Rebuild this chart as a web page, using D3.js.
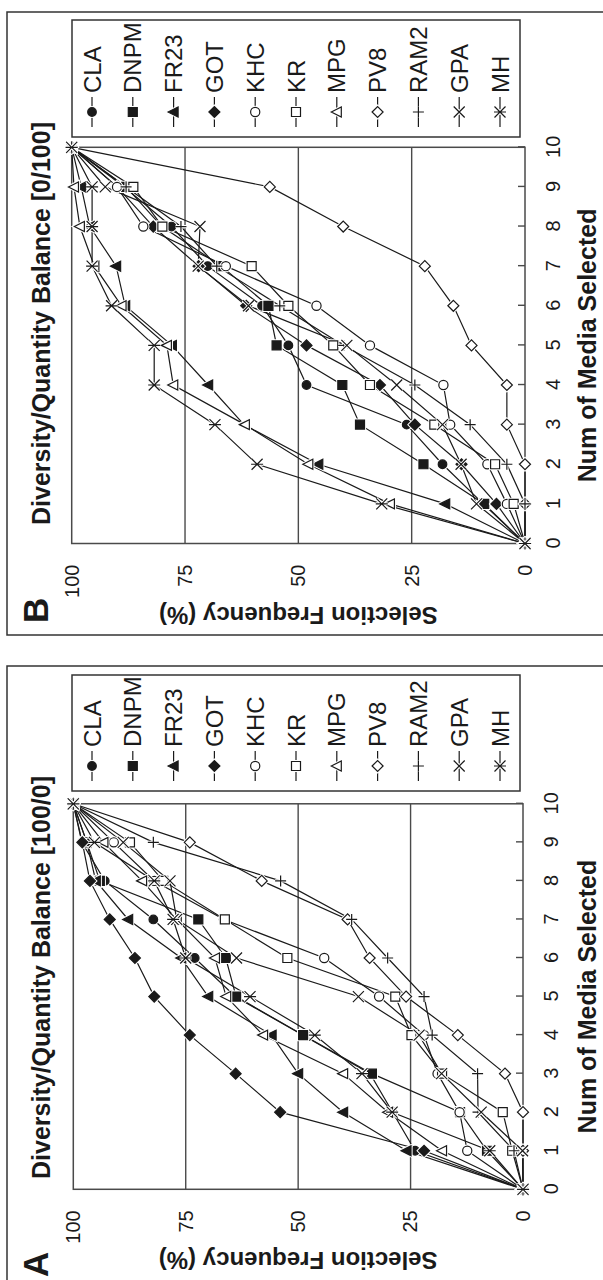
<!DOCTYPE html>
<html>
<head>
<meta charset="utf-8">
<script src="https://cdn.jsdelivr.net/npm/d3@7"></script>
<style>
  body { margin: 0; background: #fff; }
  svg { display: block; font-family: "Liberation Sans", Arial, sans-serif; }
</style>
</head>
<body>
<svg id="chart" width="603" height="1280"></svg>
<script>
// Data
const media = [0, 1, 2, 3, 4, 5, 6, 7, 8, 9, 10];
const freqTicks = [0, 25, 50, 75, 100];
const seriesNames = ["CLA", "DNPM", "FR23", "GOT", "KHC", "KR", "MPG", "PV8", "RAM2", "GPA", "MH"];

// Panel A, balance 100/0
const claA  = [0, 24, 29, 34, 49, 64, 73, 82.2, 93, 98.1, 100];
const dnpmA = [0, 8, 14, 33.6, 48.9, 63.8, 66.1, 72.2, 94.1, 97, 100];
const fr23A = [0, 25.9, 40, 50, 55.9, 70, 76, 87.8, 95, 97, 100];
const gotA  = [0, 22, 54, 63.9, 74.1, 82, 86.3, 91.9, 96.3, 98, 100];
const khcA  = [0, 12.4, 14.1, 19, 22, 32, 44.2, 66.5, 82, 91, 100];
const krA   = [0, 2.4, 4.5, 18, 24.8, 28.4, 52.4, 66.3, 80, 87.4, 100];
const mpgA  = [0, 18, 30, 40, 57.8, 66, 68.5, 77, 84.7, 93.3, 100];
const pv8A  = [0, 0, 0, 4, 14.5, 26, 34.1, 39, 58.1, 74.1, 100];
const ram2A = [0, 2, 10, 10.1, 20.2, 22, 30.1, 38.1, 53.9, 82.2, 100];
const gpaA  = [0, 0.1, 9.3, 18.1, 23.1, 36.6, 63.7, 77, 78.5, 88.9, 100];
const mhA   = [0, 7.4, 29.1, 35.8, 46.3, 60.7, 75, 77.8, 82, 95.3, 100];

// Panel B, balance 0/100
const claB  = [0, 9.2, 18.2, 26.1, 48.2, 52.2, 58, 70, 78, 88.4, 100];
const dnpmB = [0, 9, 22.4, 36.4, 40.3, 54.8, 56.6, 67, 80.1, 88, 100];
const fr23B = [0, 17.6, 45.6, 62, 69.9, 77.9, 88.2, 90.2, 96, 97.9, 100];
const gotB  = [0, 6.3, 14, 24.3, 32, 48.2, 61.5, 72, 82, 90, 100];
const khcB  = [0, 4, 8.3, 16.5, 18, 34.2, 46, 66, 84.2, 90, 100];
const krB   = [0, 2.5, 6.6, 20, 34.2, 42.3, 52.2, 60.3, 80, 86.4, 100];
const mpgB  = [0, 29.8, 47.8, 61.8, 77.6, 79, 89, 95, 98.2, 99.5, 100];
const pv8B  = [0, 0, 0, 4, 4, 11.8, 15.8, 22.1, 40.1, 56.3, 100];
const ram2B = [0, 0, 4, 12.1, 24.3, 40, 54.1, 68, 75.9, 88, 100];
const gpaB  = [0, 10.7, 14.1, 18.2, 28.3, 39.3, 61, 72.1, 71.7, 92.6, 100];
const mhB   = [0, 31.6, 59.1, 68.4, 81.8, 81.8, 91.2, 95.5, 95.5, 95.5, 100];

const seriesA = [claA, dnpmA, fr23A, gotA, khcA, krA, mpgA, pv8A, ram2A, gpaA, mhA];
const seriesB = [claB, dnpmB, fr23B, gotB, khcB, krB, mpgB, pv8B, ram2B, gpaB, mhB];

// marker shape + filled or not, one per series
const markers = [
  { d: "M4.3,0A4.3,4.3 0 1,1 -4.3,0A4.3,4.3 0 1,1 4.3,0Z", fill: true },   // CLA
  { d: "M-4.5,-4.5H4.5V4.5H-4.5Z", fill: true },                           // DNPM
  { d: "M0,-5.5L5,4.5L-5,4.5Z", fill: true },                               // FR23
  { d: "M0,-5.5L5.5,0L0,5.5L-5.5,0Z", fill: true },                         // GOT
  { d: "M4.6,0A4.6,4.6 0 1,1 -4.6,0A4.6,4.6 0 1,1 4.6,0Z", fill: false },  // KHC
  { d: "M-4.5,-4.5H4.5V4.5H-4.5Z", fill: false },                          // KR
  { d: "M0,-5.5L5,4.5L-5,4.5Z", fill: false },                              // MPG
  { d: "M0,-5.5L5.5,0L0,5.5L-5.5,0Z", fill: false },                        // PV8
  { d: "M-5.5,0H5.5M0,-5.5V5.5", fill: false, open: true },                 // RAM2
  { d: "M-5.5,-5.5L5.5,5.5M-5.5,5.5L5.5,-5.5", fill: false, open: true },   // GPA
  { d: "M-5.5,-5.5L5.5,5.5M-5.5,5.5L5.5,-5.5M0,-6V6", fill: false, open: true } // MH
];

const ink = "#1a1a1a";
const gridInk = "#4a4a4a";
const svg = d3.select("#chart");

const panels = [
  { letter: "A", title: "Diversity/Quantity Balance [100/0]", series: seriesA,
    base: 1189.3, top: 803.8, vTop: 73.3, vBottom: 523,
    frameTop: 666, frameBottom: 1289, legendTop: 675, legendBottom: 791 },
  { letter: "B", title: "Diversity/Quantity Balance [0/100]", series: seriesB,
    base: 543.5, top: 147.3, vTop: 71.7, vBottom: 525,
    frameTop: 12, frameBottom: 635, legendTop: 20, legendBottom: 137 }
];

function drawMarker(sel, m, tx, ty) {
  // white halo so the lines break around each marker
  sel.append("path")
    .attr("d", m.d)
    .attr("transform", `translate(${tx},${ty})`)
    .attr("fill", m.open ? "none" : "#fff")
    .attr("stroke", "#fff")
    .attr("stroke-width", 3.2);
  sel.append("path")
    .attr("d", m.d)
    .attr("transform", `translate(${tx},${ty})`)
    .attr("fill", m.open ? "none" : (m.fill ? ink : "#fff"))
    .attr("stroke", ink)
    .attr("stroke-width", 1.2);
}

function drawPanel(p) {
  const plotW = p.base - p.top;
  // the whole panel is drawn upright and turned a quarter turn
  const g = svg.append("g").attr("transform", `translate(0,${p.base}) rotate(-90)`);

  const x = d3.scaleLinear().domain([0, 10]).range([0, plotW]);
  const y = d3.scaleLinear().domain([0, 100]).range([p.vBottom, p.vTop]);

  // outer frame
  g.append("rect")
    .attr("x", p.base - p.frameBottom)
    .attr("y", 7)
    .attr("width", p.frameBottom - p.frameTop)
    .attr("height", 640)
    .attr("fill", "none")
    .attr("stroke", "#333")
    .attr("stroke-width", 1.5);

  // gridlines
  g.selectAll(".grid")
    .data([25, 50, 75])
    .enter().append("line")
    .attr("x1", 0).attr("x2", plotW)
    .attr("y1", d => y(d)).attr("y2", d => y(d))
    .attr("stroke", gridInk)
    .attr("stroke-width", 1.4);

  // plot box
  g.append("rect")
    .attr("x", 0).attr("y", y(100))
    .attr("width", plotW).attr("height", y(0) - y(100))
    .attr("fill", "none")
    .attr("stroke", gridInk)
    .attr("stroke-width", 1.5);

  // axes
  const xAxis = g.append("g")
    .attr("transform", `translate(0,${y(0)})`)
    .call(d3.axisBottom(x).tickValues(media).tickSizeInner(-7).tickSizeOuter(0).tickPadding(21));
  xAxis.select(".domain").remove();
  xAxis.selectAll("line").attr("stroke", gridInk).attr("stroke-width", 1.4);

  const yAxis = g.append("g")
    .call(d3.axisLeft(y).tickValues(freqTicks).tickSize(0).tickPadding(21));
  yAxis.select(".domain").remove();

  g.selectAll(".tick text")
    .attr("font-family", "Liberation Sans, Arial, sans-serif")
    .attr("font-size", 20)
    .attr("fill", ink);

  // series lines
  const line = d3.line()
    .x((d, i) => x(media[i]))
    .y(d => y(d));

  p.series.forEach(vals => {
    g.append("path")
      .attr("d", line(vals))
      .attr("fill", "none")
      .attr("stroke", ink)
      .attr("stroke-width", 1.2);
  });

  // markers
  p.series.forEach((vals, s) => {
    const mg = g.append("g");
    vals.forEach((v, i) => drawMarker(mg, markers[s], x(media[i]), y(v)));
  });

  // legend
  const lu = p.base - p.legendBottom;
  g.append("rect")
    .attr("x", lu).attr("y", 72)
    .attr("width", p.legendBottom - p.legendTop).attr("height", 448)
    .attr("fill", "#fff")
    .attr("stroke", "#333")
    .attr("stroke-width", 1.5);

  seriesNames.forEach((name, i) => {
    const rv = 92 + i * 40.8;
    const lg = g.append("g");
    lg.append("line")
      .attr("x1", lu + 10).attr("x2", lu + 40)
      .attr("y1", rv).attr("y2", rv)
      .attr("stroke", ink).attr("stroke-width", 1.2);
    drawMarker(lg, markers[i], lu + 25, rv);
    lg.append("text")
      .attr("x", lu + 44).attr("y", rv).attr("dy", "0.36em")
      .attr("font-size", 24)
      .attr("fill", ink)
      .text(name);
  });

  // titles
  g.append("text")
    .attr("x", p.base - (p.frameTop + p.frameBottom) / 2)
    .attr("y", 50)
    .attr("text-anchor", "middle")
    .attr("font-size", 25).attr("font-weight", "bold")
    .attr("fill", ink)
    .text(p.title);

  g.append("text")
    .attr("x", plotW / 2)
    .attr("y", 596)
    .attr("text-anchor", "middle")
    .attr("font-size", 25).attr("font-weight", "bold")
    .attr("fill", ink)
    .text("Num of Media Selected");

  g.append("text")
    .attr("transform", `translate(-63,${(p.vTop + p.vBottom) / 2}) rotate(-90)`)
    .attr("text-anchor", "middle")
    .attr("font-size", 24).attr("font-weight", "bold")
    .attr("fill", ink)
    .text("Selection Frequency (%)");

  g.append("text")
    .attr("x", p.base - p.frameBottom + 12)
    .attr("y", 48)
    .attr("font-size", 35).attr("font-weight", "bold")
    .attr("fill", ink)
    .text(p.letter);
}

panels.forEach(drawPanel);
</script>
</body>
</html>
